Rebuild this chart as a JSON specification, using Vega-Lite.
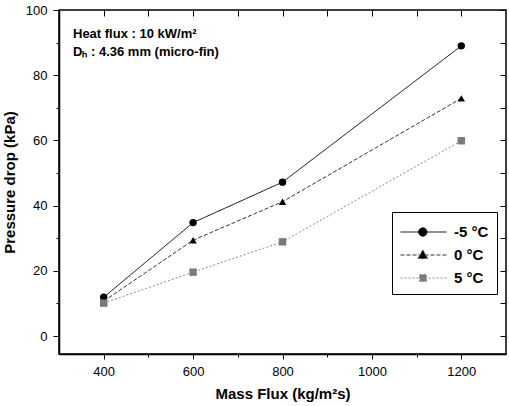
{
  "$schema": "https://vega.github.io/schema/vega-lite/v6.json",
  "width": 447,
  "height": 344,
  "autosize": {"type": "none"},
  "padding": {"left": 59, "top": 10, "right": 3, "bottom": 52},
  "background": "white",
  "config": {
    "view": {"stroke": "black", "strokeWidth": 1.5},
    "font": "Liberation Sans",
    "axis": {
      "domainColor": "black", "domainWidth": 1.5, "tickColor": "black", "tickWidth": 1,
      "labelColor": "black", "labelFont": "Liberation Sans", "labelFontSize": 13,
      "titleFont": "Liberation Sans", "titleFontSize": 15, "titleFontWeight": "bold", "titleColor": "black",
      "grid": false
    }
  },
  "title": {
    "text": "Heat flux : 10 kW/m²",
    "subtitle": "Dₕ : 4.36 mm (micro-fin)",
    "anchor": "start", "frame": "group", "orient": "top",
    "baseline": "top", "offset": 0, "dx": 14, "dy": 64,
    "font": "Liberation Sans", "fontSize": 13, "fontWeight": "bold", "color": "black",
    "subtitleFont": "Liberation Sans", "subtitleFontSize": 13, "subtitleFontWeight": "bold", "subtitleColor": "black",
    "subtitlePadding": 5
  },
  "data": {
    "values": [
      {"flux": 400, "dp": 11.9, "T": "-5 °C"},
      {"flux": 600, "dp": 34.8, "T": "-5 °C"},
      {"flux": 800, "dp": 47.2, "T": "-5 °C"},
      {"flux": 1200, "dp": 89.0, "T": "-5 °C"},
      {"flux": 400, "dp": 10.7, "T": "0 °C"},
      {"flux": 600, "dp": 29.4, "T": "0 °C"},
      {"flux": 800, "dp": 41.2, "T": "0 °C"},
      {"flux": 1200, "dp": 72.9, "T": "0 °C"},
      {"flux": 400, "dp": 10.1, "T": "5 °C"},
      {"flux": 600, "dp": 19.6, "T": "5 °C"},
      {"flux": 800, "dp": 28.9, "T": "5 °C"},
      {"flux": 1200, "dp": 59.9, "T": "5 °C"}
    ]
  },
  "layer": [
    {
      "mark": {"type": "line", "strokeWidth": 1},
      "encoding": {
        "x": {"field": "flux", "type": "quantitative", "scale": {"domain": [300, 1300], "nice": false, "zero": false},
          "axis": {"orient": "bottom", "title": "Mass Flux (kg/m²s)", "values": [400, 500, 600, 700, 800, 900, 1000, 1100, 1200],
            "labelExpr": "datum.value % 200 === 0 ? datum.label : ''", "format": "d",
            "tickSize": {"condition": {"test": "datum.value % 200 === 0", "value": 5}, "value": 3},
            "labelPadding": 6, "titlePadding": 8}},
        "y": {"field": "dp", "type": "quantitative", "scale": {"domain": [-5.5, 100], "nice": false, "zero": false},
          "axis": {"orient": "left", "title": "Pressure drop (kPa)", "values": [0, 10, 20, 30, 40, 50, 60, 70, 80, 90, 100],
            "labelExpr": "datum.value % 20 === 0 ? datum.label : ''", "format": "d",
            "tickSize": {"condition": {"test": "datum.value % 20 === 0", "value": 6}, "value": 3},
            "labelPadding": 6, "titlePadding": 8}},
        "color": {"field": "T", "type": "nominal", "scale": {"domain": ["-5 °C", "0 °C", "5 °C"], "range": ["black", "#333333", "#8a8a8a"]}, "legend": null},
        "strokeDash": {"field": "T", "type": "nominal", "scale": {"domain": ["-5 °C", "0 °C", "5 °C"], "range": [[1, 0], [4, 2], [2, 2]]}, "legend": null}
      }
    },
    {
      "mark": {"type": "point", "filled": true, "opacity": 1},
      "encoding": {
        "x": {"field": "flux", "type": "quantitative",
          "axis": {"orient": "top", "title": null, "labelExpr": "''", "labelOpacity": 0, "domainOpacity": 0, "offset": -6, "tickSize": 6,
            "values": [400, 500, 600, 700, 800, 900, 1000, 1100, 1200]}},
        "y": {"field": "dp", "type": "quantitative",
          "axis": {"orient": "right", "title": null, "labelExpr": "''", "labelOpacity": 0, "domainOpacity": 0, "offset": -6, "tickSize": 6,
            "values": [0, 10, 20, 30, 40, 50, 60, 70, 80, 90, 100]}},
        "color": {"field": "T", "type": "nominal", "scale": {"domain": ["-5 °C", "0 °C", "5 °C"], "range": ["black", "black", "#7a7a7a"]}, "legend": null},
        "shape": {"field": "T", "type": "nominal", "scale": {"domain": ["-5 °C", "0 °C", "5 °C"], "range": ["circle", "triangle-up", "square"]}, "legend": null},
        "size": {"field": "T", "type": "nominal", "scale": {"domain": ["-5 °C", "0 °C", "5 °C"], "range": [55, 55, 36]}, "legend": null}
      }
    },
    {
      "transform": [{"filter": "false"}],
      "mark": {"type": "point", "filled": true, "strokeWidth": 1, "opacity": 1},
      "encoding": {
        "fill": {"field": "T", "type": "nominal", "scale": {"domain": ["-5 °C", "0 °C", "5 °C"], "range": ["black", "black", "#7a7a7a"]},
          "legend": {"title": null, "orient": "none", "legendX": 333, "legendY": 202, "strokeColor": "black", "fillColor": "white",
            "padding": 8, "symbolSize": 529, "symbolOpacity": 1, "labelOffset": 30, "labelFontSize": 15, "labelFontWeight": "bold", "labelFont": "Liberation Sans", "labelColor": "black",
            "rowPadding": 3, "symbolStrokeWidth": 1}},
        "stroke": {"field": "T", "type": "nominal", "scale": {"domain": ["-5 °C", "0 °C", "5 °C"], "range": ["black", "#333333", "#8a8a8a"]}},
        "shape": {"field": "T", "type": "nominal", "scale": {"domain": ["-5 °C", "0 °C", "5 °C"], "range": [
          "M-1,0H3M0.58,0A0.36,0.36,0,1,1,1.3,0A0.36,0.36,0,1,1,0.58,0Z",
          "M-1,0H3M0.94,-0.42L1.34,0.3L0.54,0.3Z",
          "M-1,0H3M0.66,-0.3H1.26V0.3H0.66Z"]}},
        "strokeDash": {"field": "T", "type": "nominal", "scale": {"domain": ["-5 °C", "0 °C", "5 °C"], "range": [[1, 0], [4, 2], [2, 2]]}}
      }
    }
  ],
  "resolve": {
    "axis": {"x": "independent", "y": "independent"},
    "scale": {"color": "independent", "shape": "independent", "strokeDash": "independent", "fill": "independent", "stroke": "independent", "size": "independent"}
  }
}
